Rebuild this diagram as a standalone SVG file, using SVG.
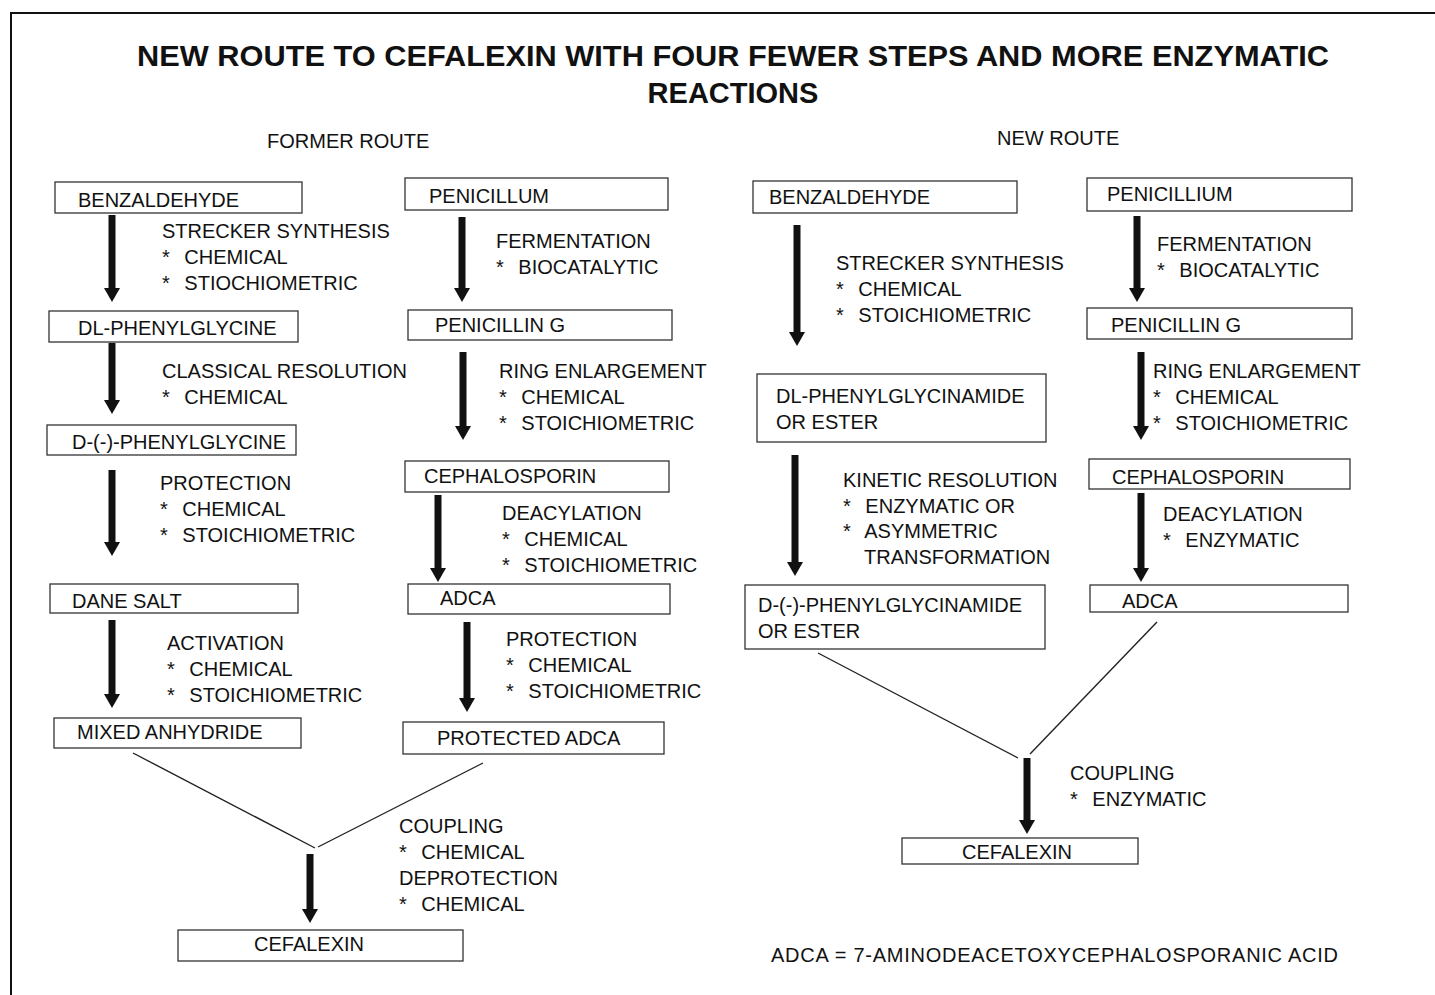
<svg xmlns="http://www.w3.org/2000/svg" width="1435" height="995" viewBox="0 0 1435 995">
<defs>
<marker id="ah" markerUnits="userSpaceOnUse" markerWidth="14" markerHeight="16" viewBox="0 0 14 16" refX="0" refY="8" orient="auto">
<path d="M0,0 L14,8 L0,16 z" fill="#111"/>
</marker>
<style>
text{font-family:"Liberation Sans",Arial,sans-serif;font-size:20px;fill:#111}
.title{font-size:29px;font-weight:bold}
.box{fill:#fff;stroke:#333;stroke-width:1.3}
.arr{stroke:#111;stroke-width:7;marker-end:url(#ah)}
.merge{stroke:#222;stroke-width:1.4;fill:none}
</style>
</defs>
<rect width="1435" height="995" fill="#fff"/>
<path d="M11,995 V13 H1435" fill="none" stroke="#111" stroke-width="2"/>
<text class="title" x="733" y="66" text-anchor="middle" textLength="1192" lengthAdjust="spacingAndGlyphs">NEW ROUTE TO CEFALEXIN WITH FOUR FEWER STEPS AND MORE ENZYMATIC</text>
<text class="title" x="733" y="103" text-anchor="middle">REACTIONS</text>
<text x="267" y="148">FORMER ROUTE</text>
<text x="997" y="145">NEW ROUTE</text>

<g id="connectors">
<line class="arr" x1="112" y1="215" x2="112" y2="288"/>
<line class="arr" x1="112" y1="343" x2="112" y2="400"/>
<line class="arr" x1="112" y1="470" x2="112" y2="542"/>
<line class="arr" x1="112" y1="620" x2="112" y2="694"/>
<line class="arr" x1="462" y1="217" x2="462" y2="288"/>
<line class="arr" x1="463" y1="352" x2="463" y2="426"/>
<line class="arr" x1="438" y1="495" x2="438" y2="568"/>
<line class="arr" x1="467" y1="622" x2="467" y2="698"/>
<line class="merge" x1="133" y1="753" x2="315" y2="848"/>
<line class="merge" x1="483" y1="763" x2="318" y2="847"/>
<line class="arr" x1="310" y1="854" x2="310" y2="909"/>
<line class="arr" x1="797" y1="225" x2="797" y2="332"/>
<line class="arr" x1="795" y1="455" x2="795" y2="562"/>
<line class="arr" x1="1137" y1="216" x2="1137" y2="288"/>
<line class="arr" x1="1141" y1="352" x2="1141" y2="426"/>
<line class="arr" x1="1141" y1="493" x2="1141" y2="568"/>
<line class="merge" x1="818" y1="653" x2="1018" y2="758"/>
<line class="merge" x1="1157" y1="622" x2="1030" y2="754"/>
<line class="arr" x1="1027" y1="758" x2="1027" y2="820"/>
</g>

<g id="labels">
<text x="162" y="238">STRECKER SYNTHESIS</text>
<text x="162" y="264">* <tspan dx="9">CHEMICAL</tspan></text>
<text x="162" y="290">* <tspan dx="9">STIOCHIOMETRIC</tspan></text>
<text x="162" y="378">CLASSICAL RESOLUTION</text>
<text x="162" y="404">* <tspan dx="9">CHEMICAL</tspan></text>
<text x="160" y="490">PROTECTION</text>
<text x="160" y="516">* <tspan dx="9">CHEMICAL</tspan></text>
<text x="160" y="542">* <tspan dx="9">STOICHIOMETRIC</tspan></text>
<text x="167" y="650">ACTIVATION</text>
<text x="167" y="676">* <tspan dx="9">CHEMICAL</tspan></text>
<text x="167" y="702">* <tspan dx="9">STOICHIOMETRIC</tspan></text>
<text x="496" y="248">FERMENTATION</text>
<text x="496" y="274">* <tspan dx="9">BIOCATALYTIC</tspan></text>
<text x="499" y="378">RING ENLARGEMENT</text>
<text x="499" y="404">* <tspan dx="9">CHEMICAL</tspan></text>
<text x="499" y="430">* <tspan dx="9">STOICHIOMETRIC</tspan></text>
<text x="502" y="520">DEACYLATION</text>
<text x="502" y="546">* <tspan dx="9">CHEMICAL</tspan></text>
<text x="502" y="572">* <tspan dx="9">STOICHIOMETRIC</tspan></text>
<text x="506" y="646">PROTECTION</text>
<text x="506" y="672">* <tspan dx="9">CHEMICAL</tspan></text>
<text x="506" y="698">* <tspan dx="9">STOICHIOMETRIC</tspan></text>
<text x="399" y="833">COUPLING</text>
<text x="399" y="859">* <tspan dx="9">CHEMICAL</tspan></text>
<text x="399" y="885">DEPROTECTION</text>
<text x="399" y="911">* <tspan dx="9">CHEMICAL</tspan></text>
<text x="836" y="270">STRECKER SYNTHESIS</text>
<text x="836" y="296">* <tspan dx="9">CHEMICAL</tspan></text>
<text x="836" y="322">* <tspan dx="9">STOICHIOMETRIC</tspan></text>
<text x="843" y="487">KINETIC RESOLUTION</text>
<text x="843" y="513">* <tspan dx="9">ENZYMATIC OR</tspan></text>
<text x="843" y="538">* <tspan dx="9">ASYMMETRIC</tspan></text>
<text x="864" y="564">TRANSFORMATION</text>
<text x="1157" y="251">FERMENTATION</text>
<text x="1157" y="277">* <tspan dx="9">BIOCATALYTIC</tspan></text>
<text x="1153" y="378">RING ENLARGEMENT</text>
<text x="1153" y="404">* <tspan dx="9">CHEMICAL</tspan></text>
<text x="1153" y="430">* <tspan dx="9">STOICHIOMETRIC</tspan></text>
<text x="1163" y="521">DEACYLATION</text>
<text x="1163" y="547">* <tspan dx="9">ENZYMATIC</tspan></text>
<text x="1070" y="780">COUPLING</text>
<text x="1070" y="806">* <tspan dx="9">ENZYMATIC</tspan></text>
<text x="771" y="962" textLength="567" lengthAdjust="spacing">ADCA = 7-AMINODEACETOXYCEPHALOSPORANIC ACID</text>
</g>

<g id="n-benzaldehyde-old"><rect class="box" x="55" y="182" width="247" height="31"/><text x="78" y="207">BENZALDEHYDE</text></g>
<g id="n-dl-phenylglycine"><rect class="box" x="49" y="311" width="249" height="31"/><text x="78" y="335">DL-PHENYLGLYCINE</text></g>
<g id="n-d-phenylglycine"><rect class="box" x="47" y="425" width="249" height="30"/><text x="72" y="449">D-(-)-PHENYLGLYCINE</text></g>
<g id="n-dane-salt"><rect class="box" x="50" y="584" width="248" height="29"/><text x="72" y="608">DANE SALT</text></g>
<g id="n-mixed-anhydride"><rect class="box" x="54" y="718" width="247" height="30"/><text x="77" y="739">MIXED ANHYDRIDE</text></g>
<g id="n-penicillum"><rect class="box" x="405" y="178" width="263" height="32"/><text x="429" y="203">PENICILLUM</text></g>
<g id="n-penicillin-g-old"><rect class="box" x="408" y="310" width="264" height="30"/><text x="435" y="332">PENICILLIN G</text></g>
<g id="n-cephalosporin-old"><rect class="box" x="405" y="461" width="264" height="31"/><text x="424" y="483">CEPHALOSPORIN</text></g>
<g id="n-adca-old"><rect class="box" x="408" y="584" width="262" height="30"/><text x="440" y="605">ADCA</text></g>
<g id="n-protected-adca"><rect class="box" x="403" y="722" width="261" height="32"/><text x="437" y="745">PROTECTED ADCA</text></g>
<g id="n-cefalexin-old"><rect class="box" x="178" y="930" width="285" height="31"/><text x="254" y="951">CEFALEXIN</text></g>

<g id="n-benzaldehyde-new"><rect class="box" x="753" y="181" width="264" height="32"/><text x="769" y="204">BENZALDEHYDE</text></g>
<g id="n-dl-phenylglycinamide"><rect class="box" x="757" y="374" width="289" height="68"/><text x="776" y="403">DL-PHENYLGLYCINAMIDE</text><text x="776" y="429">OR ESTER</text></g>
<g id="n-d-phenylglycinamide"><rect class="box" x="745" y="585" width="300" height="64"/><text x="758" y="612">D-(-)-PHENYLGLYCINAMIDE</text><text x="758" y="638">OR ESTER</text></g>
<g id="n-penicillium"><rect class="box" x="1087" y="178" width="265" height="33"/><text x="1107" y="201">PENICILLIUM</text></g>
<g id="n-penicillin-g-new"><rect class="box" x="1087" y="308" width="265" height="31"/><text x="1111" y="332">PENICILLIN G</text></g>
<g id="n-cephalosporin-new"><rect class="box" x="1089" y="459" width="261" height="30"/><text x="1112" y="484">CEPHALOSPORIN</text></g>
<g id="n-adca-new"><rect class="box" x="1090" y="585" width="258" height="27"/><text x="1122" y="608">ADCA</text></g>
<g id="n-cefalexin-new"><rect class="box" x="902" y="838" width="236" height="26"/><text x="962" y="859">CEFALEXIN</text></g>
</svg>
